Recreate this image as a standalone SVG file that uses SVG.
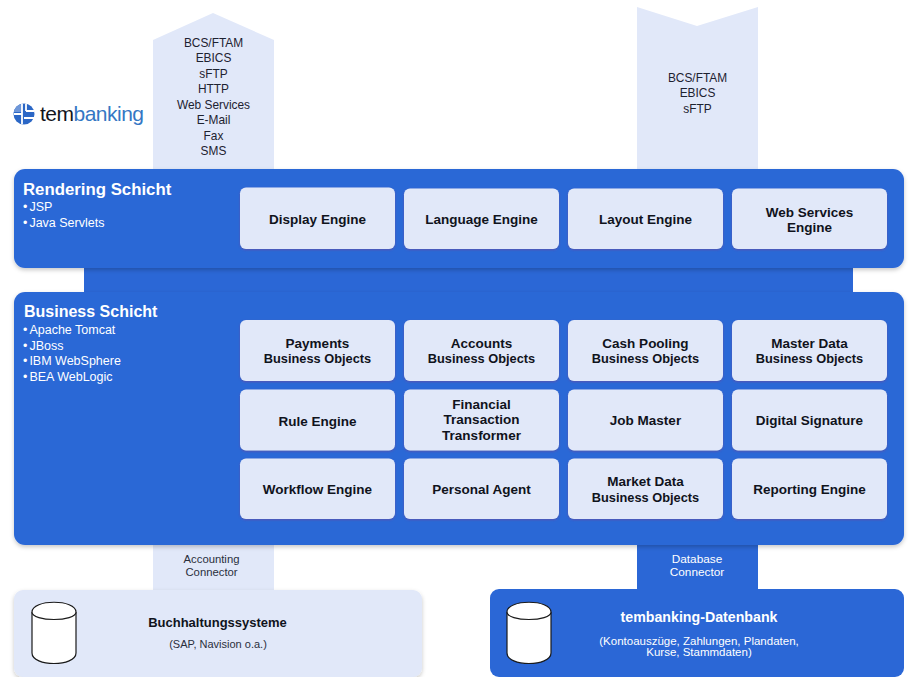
<svg xmlns="http://www.w3.org/2000/svg" width="910" height="677" viewBox="0 0 910 677">
<style>
text{font-family:"Liberation Sans",Arial,sans-serif;text-anchor:middle}
.band{fill:#2b67d6}
.light{fill:#e1e8f9}
.card{fill:#e1e8f9;filter:url(#cs)}
.panel{fill:#2b67d6;filter:url(#ps)}
.b{font-size:13.5px;font-weight:bold;fill:#10131c}
.o{font-size:12.8px}
.r{font-size:11.9px;fill:#1d2230}
.c{font-size:11px;fill:#2a2f3c}
.w{fill:#ffffff}
.t{font-size:16px;font-weight:bold;fill:#ffffff;text-anchor:start}
.l{font-size:12.5px;fill:#ffffff;text-anchor:start}
.cyl{fill:#ffffff;stroke:#1a1a1a;stroke-width:1.2}
</style>
<defs>
<filter id="ps" x="-2%" y="-5%" width="104%" height="112%"><feDropShadow dx="0" dy="2" stdDeviation="2" flood-color="#000" flood-opacity="0.22"/></filter>
<filter id="cs" x="-3%" y="-5%" width="106%" height="112%"><feDropShadow dx="0" dy="1" stdDeviation="0.8" flood-color="#7a3f90" flood-opacity="0.55"/></filter>
<g id="cylinder"><path class="cyl" d="M0,10 C0,-3 44,-3 44,10 V51 C44,65 0,65 0,51 Z"/><path class="cyl" fill="none" d="M0,10 C0,20 44,20 44,10"/></g>
</defs>
<rect width="910" height="677" fill="#ffffff"/>
<g id="connectors">
<polygon class="light" points="153,40 213,13 274,40 274,170 153,170"/>
<polygon class="light" points="637,7 697,26 758,7 758,170 637,170"/>
<rect class="band" x="84" y="266" width="769" height="28"/>
<rect class="light" x="153" y="544" width="121" height="47"/>
<rect class="band" x="637" y="544" width="121" height="47"/>
</g>
<g id="logo">
<circle cx="24" cy="114" r="10.5" fill="#2b67c6"/>
<path d="M13.500,114 A10.500,10.500 0 0 1 22,103.700 V112 H13.500 Z" fill="#6f97d8"/>
<path d="M14,114 H22 V124 M22,104 V116 M24,118 H34 M26,111 H34 M26,104 V111" stroke="#ffffff" stroke-width="1.800" fill="none"/>
<text x="40" y="121" font-size="21" textLength="104" style="text-anchor:start" fill="#12151c">tem<tspan fill="#3477c4">banking</tspan></text>
</g>
<g id="arrow-left-label">
<text class="r" x="213.500" y="46.500">BCS/FTAM</text>
<text class="r" x="213.500" y="62">EBICS</text>
<text class="r" x="213.500" y="77.500">sFTP</text>
<text class="r" x="213.500" y="93">HTTP</text>
<text class="r" x="213.500" y="108.500">Web Services</text>
<text class="r" x="213.500" y="124">E-Mail</text>
<text class="r" x="213.500" y="139.500">Fax</text>
<text class="r" x="213.500" y="155">SMS</text>
</g>
<g id="arrow-right-label">
<text class="r" x="697.500" y="81.500">BCS/FTAM</text>
<text class="r" x="697.500" y="97">EBICS</text>
<text class="r" x="697.500" y="112.500">sFTP</text>
</g>
<g id="rendering">
<rect class="panel" x="14" y="169" width="890" height="99" rx="11"/>
<text class="t" x="23" y="194.500" style="font-size:16.800px">Rendering Schicht</text>
<text class="l" x="23" y="211">•<tspan dx="2">JSP</tspan></text>
<text class="l" x="23" y="227">•<tspan dx="2">Java Servlets</tspan></text>
</g>
<g id="business">
<rect class="panel" x="14" y="292" width="890" height="253" rx="11"/>
<text class="t" x="24" y="316.500">Business Schicht</text>
<text class="l" x="23" y="334">•<tspan dx="2">Apache Tomcat</tspan></text>
<text class="l" x="23" y="349.500">•<tspan dx="2">JBoss</tspan></text>
<text class="l" x="23" y="365">•<tspan dx="2">IBM WebSphere</tspan></text>
<text class="l" x="23" y="380.500">•<tspan dx="2">BEA WebLogic</tspan></text>
</g>
<g id="display-engine"><rect class="card" x="240" y="187.500" width="155" height="61.500" rx="6"/><text class="b" x="317.500" y="224">Display Engine</text></g>
<g id="language-engine"><rect class="card" x="404" y="188.500" width="155" height="60.500" rx="6"/><text class="b" x="481.500" y="224">Language Engine</text></g>
<g id="layout-engine"><rect class="card" x="568" y="188.500" width="155" height="60.500" rx="6"/><text class="b" x="645.500" y="224">Layout Engine</text></g>
<g id="web-services-engine"><rect class="card" x="732" y="188.500" width="155" height="60.500" rx="6"/><text class="b" x="809.500" y="216.500">Web Services</text><text class="b" x="809.500" y="232">Engine</text></g>
<g id="payments"><rect class="card" x="240" y="320" width="155" height="61" rx="6"/><text class="b" x="317.500" y="347.500">Payments</text><text class="b o" x="317.500" y="363">Business Objects</text></g>
<g id="accounts"><rect class="card" x="404" y="320" width="155" height="61" rx="6"/><text class="b" x="481.500" y="347.500">Accounts</text><text class="b o" x="481.500" y="363">Business Objects</text></g>
<g id="cash-pooling"><rect class="card" x="568" y="320" width="155" height="61" rx="6"/><text class="b" x="645.500" y="347.500">Cash Pooling</text><text class="b o" x="645.500" y="363">Business Objects</text></g>
<g id="master-data"><rect class="card" x="732" y="320" width="155" height="61" rx="6"/><text class="b" x="809.500" y="347.500">Master Data</text><text class="b o" x="809.500" y="363">Business Objects</text></g>
<g id="rule-engine"><rect class="card" x="240" y="389.500" width="155" height="61" rx="6"/><text class="b" x="317.500" y="425.500">Rule Engine</text></g>
<g id="financial-transaction"><rect class="card" x="404" y="389.500" width="155" height="61" rx="6"/><text class="b" x="481.500" y="408.500">Financial</text><text class="b" x="481.500" y="424">Transaction</text><text class="b" x="481.500" y="439.500">Transformer</text></g>
<g id="job-master"><rect class="card" x="568" y="389.500" width="155" height="61" rx="6"/><text class="b" x="645.500" y="424.500">Job Master</text></g>
<g id="digital-signature"><rect class="card" x="732" y="389.500" width="155" height="61" rx="6"/><text class="b" x="809.500" y="424.500">Digital Signature</text></g>
<g id="workflow-engine"><rect class="card" x="240" y="458.500" width="155" height="60.500" rx="6"/><text class="b" x="317.500" y="494">Workflow Engine</text></g>
<g id="personal-agent"><rect class="card" x="404" y="458.500" width="155" height="60.500" rx="6"/><text class="b" x="481.500" y="494">Personal Agent</text></g>
<g id="market-data"><rect class="card" x="568" y="458.500" width="155" height="60.500" rx="6"/><text class="b" x="645.500" y="486">Market Data</text><text class="b o" x="645.500" y="501.500">Business Objects</text></g>
<g id="reporting-engine"><rect class="card" x="732" y="458.500" width="155" height="60.500" rx="6"/><text class="b" x="809.500" y="494">Reporting Engine</text></g>
<g id="accounting-connector"><text class="c" x="211.500" y="563" style="font-size:11.300px">Accounting</text><text class="c" x="211.500" y="576" style="font-size:11.300px">Connector</text></g>
<g id="database-connector"><text class="c w" x="697" y="563" style="font-size:11.800px">Database</text><text class="c w" x="697" y="576" style="font-size:11.800px">Connector</text></g>
<g id="buchhaltung">
<rect x="14" y="590" width="408" height="87" rx="9" fill="#e1e8f9" filter="url(#ps)"/>
<use href="#cylinder" x="32" y="602"/>
<text x="217.500" y="627" font-size="13" font-weight="bold" fill="#10131c">Buchhaltungssysteme</text>
<text x="218" y="648" font-size="11" fill="#2a2f3c">(SAP, Navision o.a.)</text>
</g>
<g id="datenbank">
<rect x="490" y="589" width="414" height="88" rx="9" fill="#2b67d6"/>
<use href="#cylinder" x="507" y="602"/>
<text x="699" y="622" font-size="14.200" font-weight="bold" fill="#ffffff">tembanking-Datenbank</text>
<text x="699" y="645" font-size="11.500" fill="#ffffff">(Kontoauszüge, Zahlungen, Plandaten,</text>
<text x="699" y="656" font-size="11.500" fill="#ffffff">Kurse, Stammdaten)</text>
</g>
</svg>
